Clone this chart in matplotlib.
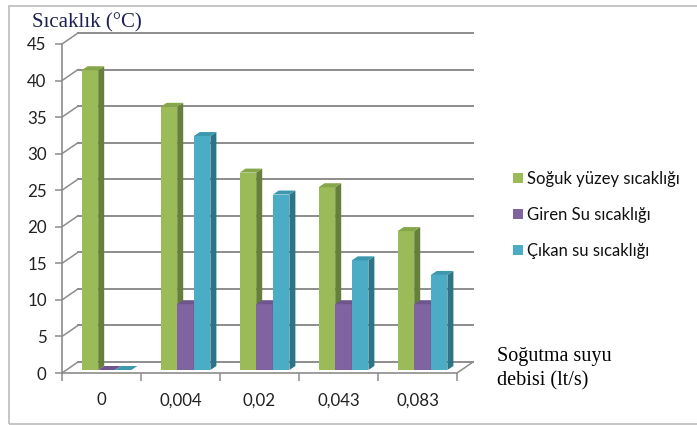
import matplotlib
matplotlib.use("Agg")
import matplotlib.pyplot as plt
from matplotlib.patches import Polygon, Rectangle, Patch

# data
categories = ["0", "0,004", "0,02", "0,043", "0,083"]
soguk_yuzey = [41, 36, 27, 25, 19]
giren_su = [0, 9, 9, 9, 9]
cikan_su = [0, 32, 24, 15, 13]
series_names = ["Soğuk yüzey sıcaklığı", "Giren Su sıcaklığı", "Çıkan su sıcaklığı"]
y_ticks = list(range(0, 50, 5))

# colours (front, top, side)
colors = [("#9BBB59", "#86A64A", "#64803A"),
          ("#8064A2", "#6E558E", "#594578"),
          ("#4BACC6", "#3C97AF", "#2E7487")]

W, H = 697, 425
fig = plt.figure(figsize=(W / 100, H / 100), dpi=100)

# front plane of the 3d box in pixels: x 62..457, y(0)=373, y(45)=44
left, right, top0, bot0 = 62, 457, 44, 373
ax = fig.add_axes([left / W, (H - bot0) / H, (right - left) / W, (bot0 - top0) / H])
ax.set_xlim(0, len(categories))
ax.set_ylim(0, 45)

px_x = (right - left) / len(categories)   # px per category
px_y = (bot0 - top0) / 45                 # px per unit

def ox(p):
    return p / px_x

def oy(p):
    return p / px_y

grid_col = "#8C8C8C"
wall_dx, wall_dy = ox(16), oy(11)

# back wall gridlines and side wall diagonals
for v in y_ticks:
    ax.plot([wall_dx, len(categories) + wall_dx], [v + wall_dy, v + wall_dy],
            color=grid_col, lw=1.4, clip_on=False, zorder=1)
    ax.plot([0, wall_dx], [v, v + wall_dy], color=grid_col, lw=1.1, clip_on=False, zorder=1)
# floor right edge
ax.plot([len(categories), len(categories) + wall_dx], [0, wall_dy],
        color=grid_col, lw=1.1, clip_on=False, zorder=1)

# bars
bw = 0.21
shift_x, shift_y = ox(5), oy(3)
dep_x, dep_y = ox(6), oy(4)
series = [soguk_yuzey, giren_su, cikan_su]
for s, vals in enumerate(series):
    front, topc, side = colors[s]
    for i, v in enumerate(vals):
        x0 = i + 0.5 - 1.5 * bw + s * bw + shift_x
        x1 = x0 + bw
        y0 = shift_y
        y1 = v + shift_y
        z = 3 + i * 3 + s
        if v > 0:
            ax.add_patch(Rectangle((x0, y0), bw, v, facecolor=front, edgecolor="none",
                                   clip_on=False, zorder=z))
            ax.add_patch(Polygon([(x1, y0), (x1 + dep_x, y0 + dep_y), (x1 + dep_x, y1 + dep_y), (x1, y1)],
                                 closed=True, facecolor=side, edgecolor="none", clip_on=False, zorder=z))
        ax.add_patch(Polygon([(x0, y1), (x1, y1), (x1 + dep_x, y1 + dep_y), (x0 + dep_x, y1 + dep_y)],
                             closed=True, facecolor=topc, edgecolor="none", clip_on=False, zorder=z))

# axes styling
for sp in ["top", "right"]:
    ax.spines[sp].set_visible(False)
for sp in ["left", "bottom"]:
    ax.spines[sp].set_color(grid_col)
    ax.spines[sp].set_linewidth(1.2)
ax.patch.set_alpha(0)

tick_font = "Lato"
ax.set_yticks(y_ticks)
ax.set_yticklabels([str(t) for t in y_ticks], fontsize=12.2, family=tick_font, color="#222222")
ax.tick_params(axis="y", length=5, width=1.1, color=grid_col, pad=6)
ax.set_xticks(range(len(categories) + 1))
ax.set_xticklabels([])
ax.tick_params(axis="x", which="major", length=6, width=1.1, color=grid_col)
ax.set_xticks([i + 0.5 for i in range(len(categories))], minor=True)
ax.set_xticklabels(categories, minor=True, fontsize=12.2, family=tick_font, color="#222222")
ax.tick_params(axis="x", which="minor", length=0, pad=14)

# texts
fig.text(32 / W, 1 - 23 / H, "Sıcaklık (°C)", family="Liberation Serif", fontsize=15,
         color="#1F2152", va="center", ha="left")
fig.text(497 / W, 1 - 369 / H, "Soğutma suyu\ndebisi (lt/s)", family="Liberation Serif",
         fontsize=14.5, color="black", va="center", ha="left", linespacing=1.35)

handles = [Patch(facecolor=c[0], edgecolor="none") for c in colors]
fig.legend(handles, series_names, loc="center left", bbox_to_anchor=(498 / W, 1 - 215 / H),
           frameon=False, prop={"family": tick_font, "size": 12.0}, handlelength=0.6,
           handleheight=0.6, handletextpad=0.25, labelspacing=1.2, labelcolor="#111111")

# chart border
fig.patches.append(Rectangle((9 / W, 1 - 424 / H), (W + 10) / W, 418 / H, transform=fig.transFigure,
                             fill=False, edgecolor="#BBBBBB", lw=1.2))

fig.savefig("out.png", dpi=100)
